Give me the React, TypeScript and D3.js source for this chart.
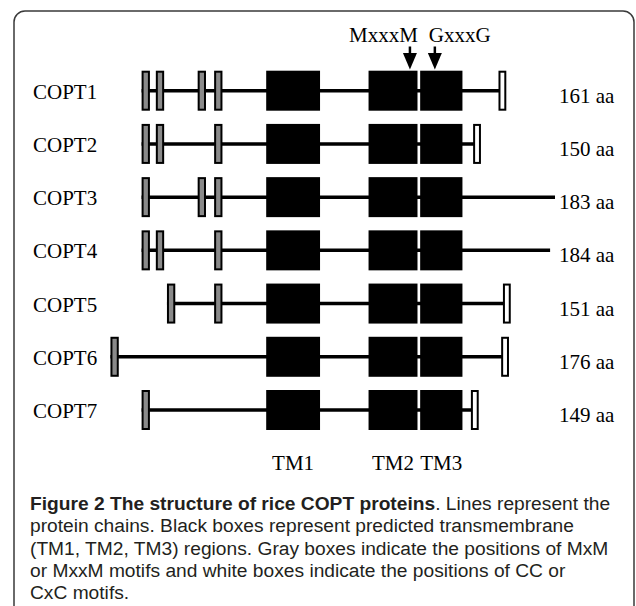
import React from 'react'
import * as d3 from 'd3'

// schematic positions along the chain (0..100 units, not residues)
const proteins = ['COPT1', 'COPT2', 'COPT3', 'COPT4', 'COPT5', 'COPT6', 'COPT7']
const lengths = ['161 aa', '150 aa', '183 aa', '184 aa', '151 aa', '176 aa', '149 aa']
const chainStart = [7.1, 7.1, 7.1, 7.1, 12.8, 0.1, 7.1]
const chainEnd = [88.1, 82.6, 100, 98.9, 89.1, 88.8, 82.0]
const grayBoxes = [
  [7.1, 10.3, 19.7, 23.4],
  [7.1, 10.3, 23.4],
  [7.1, 19.7, 23.4],
  [7.1, 10.3, 23.4],
  [12.8, 23.4],
  [0.1],
  [7.1],
]
const whiteBoxes = [87.3, 81.6, null, null, 88.3, 87.9, 81.1]
const tmNames = ['TM1', 'TM2', 'TM3']
const tmStart = [35.1, 58.1, 69.7]
const tmEnd = [47.2, 69.1, 79.2]
const motifNames = ['MxxxM', 'GxxxG']
const motifPos = [67.4, 73.0]

const captionBold = 'Figure 2 The structure of rice COPT proteins'
const captionLines = [
  '. Lines represent the',
  'protein chains. Black boxes represent predicted transmembrane',
  '(TM1, TM2, TM3) regions. Gray boxes indicate the positions of MxM',
  'or MxxM motifs and white boxes indicate the positions of CC or',
  'CxC motifs.',
]

const width = 636
const height = 606
const serif = '"Liberation Serif", "Times New Roman", serif'
const sans = '"Liberation Sans", Arial, sans-serif'

export default function App() {
  const x = d3.scaleLinear().domain([0, 100]).range([110, 555])
  const y = d3.scalePoint().domain(proteins).range([90.7, 410])
  const boxW = x(1.87) - x(0)
  const tmH = 40
  const smallH = 38

  return (
    <svg width={width} height={height} style={{ position: 'absolute', left: 0, top: 0, background: '#fff' }}>
      <rect x={14} y={11} width={620} height={700} rx={11} fill='none' stroke='#3a3a3a' strokeWidth={1.5} />

      {motifNames.map((m, i) => {
        const ax = x(motifPos[i])
        return (
          <g key={m}>
            <text x={i === 0 ? ax + 8 : ax - 6} y={41.7} textAnchor={i === 0 ? 'end' : 'start'}
              fontFamily={serif} fontSize={21}>{m}</text>
            <line x1={ax} x2={ax} y1={46.5} y2={54} stroke='#000' strokeWidth={2.5} />
            <path d={`M${ax - 7},53 L${ax + 7},53 L${ax},69.5 Z`} fill='#000' />
          </g>
        )
      })}

      {proteins.map((p, i) => {
        const cy = y(p)
        return (
          <g key={p}>
            <text x={33} y={cy + 8} fontFamily={serif} fontSize={21}>{p}</text>
            <line x1={x(chainStart[i])} x2={x(chainEnd[i])} y1={cy} y2={cy} stroke='#000' strokeWidth={3.5} />
            {tmStart.map((s, j) => (
              <rect key={j} x={x(s)} y={cy - tmH / 2} width={x(tmEnd[j]) - x(s)} height={tmH} fill='#000' />
            ))}
            {grayBoxes[i].map((g, j) => (
              <rect key={j} x={x(g) + 1} y={cy - smallH / 2} width={boxW - 2} height={smallH}
                fill='#8a8a8a' stroke='#000' strokeWidth={2} />
            ))}
            {whiteBoxes[i] !== null && (
              <rect x={x(whiteBoxes[i] as number) + 1} y={cy - smallH / 2} width={boxW - 2.5} height={smallH}
                fill='#fff' stroke='#000' strokeWidth={2} />
            )}
            <text x={Math.max(559, x(chainEnd[i]) + 2)} y={cy + 12} fontFamily={serif} fontSize={21}>{lengths[i]}</text>
          </g>
        )
      })}

      {tmNames.map((t, j) => (
        <text key={t} x={(x(tmStart[j]) + x(tmEnd[j])) / 2} y={470} textAnchor='middle'
          fontFamily={serif} fontSize={21}>{t}</text>
      ))}

      <g fontFamily={sans} fontSize={19.2} fill='#231f20'>
        <text x={30} y={510}>
          <tspan fontWeight='bold'>{captionBold}</tspan>
          <tspan>{captionLines[0]}</tspan>
        </text>
        {captionLines.slice(1).map((l, k) => (
          <text key={k} x={30} y={532.3 + k * 22.3}>{l}</text>
        ))}
      </g>
    </svg>
  )
}
